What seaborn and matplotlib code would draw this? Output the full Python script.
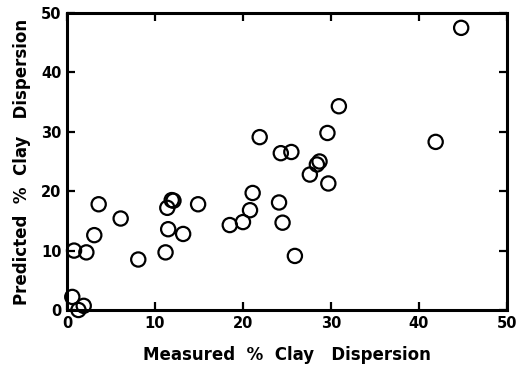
import numpy as np
import pandas as pd
import matplotlib
matplotlib.use("Agg")
import matplotlib.pyplot as plt
import seaborn as sns

# measured vs predicted % clay dispersion
measured = [0.6, 1.3, 1.9, 0.8, 2.2, 3.1, 3.6, 6.1, 8.1, 11.2, 11.5, 13.2,
            11.4, 11.9, 12.1, 14.9, 18.5, 20.0, 20.8, 21.1, 21.9, 24.1,
            24.5, 25.9, 24.3, 25.5, 27.6, 28.4, 28.7, 29.7, 29.6, 30.9,
            41.9, 44.8]
predicted = [2.2, 0.0, 0.7, 10.0, 9.7, 12.6, 17.8, 15.4, 8.5, 9.7, 13.6, 12.8,
             17.2, 18.5, 18.4, 17.8, 14.3, 14.8, 16.8, 19.7, 29.1, 18.1,
             14.7, 9.1, 26.4, 26.6, 22.8, 24.5, 25.0, 21.3, 29.8, 34.3,
             28.3, 47.5]
ticks = [0, 10, 20, 30, 40, 50]

df = pd.DataFrame({"measured": measured, "predicted": predicted})

sns.set_style("ticks")
plt.rcParams["font.family"] = ["DejaVu Sans"]
plt.rcParams["font.weight"] = "bold"
plt.rcParams["text.color"] = "black"
plt.rcParams["axes.labelcolor"] = "black"

fig = plt.figure(figsize=(5.21, 3.65), dpi=100)
ax = fig.add_axes([0.1286, 0.1507, 0.8444, 0.8137])

sns.scatterplot(data=df, x="measured", y="predicted", ax=ax,
                marker="o", s=105, facecolor="none", edgecolor="black",
                linewidth=1.6, clip_on=False, zorder=3)

ax.set_xlim(0, 50)
ax.set_ylim(0, 50)
ax.set_xticks(ticks)
ax.set_yticks(ticks)
ax.set_xticklabels([str(t) for t in ticks], fontsize=10.5, fontweight="bold")
ax.set_yticklabels([str(t) for t in ticks], fontsize=10.5, fontweight="bold")
ax.tick_params(direction="in", length=6, width=1.6, top=True, right=True,
               pad=4, colors="black")
for sp in ax.spines.values():
    sp.set_linewidth(2.2)
    sp.set_color("black")

ax.set_xlabel("Measured  %  Clay   Dispersion", fontsize=12,
              fontweight="bold", labelpad=11, color="black")
ax.set_ylabel("Predicted  %  Clay   Dispersion", fontsize=12,
              fontweight="bold", labelpad=7, color="black")

fig.savefig("out.png", dpi=100)
